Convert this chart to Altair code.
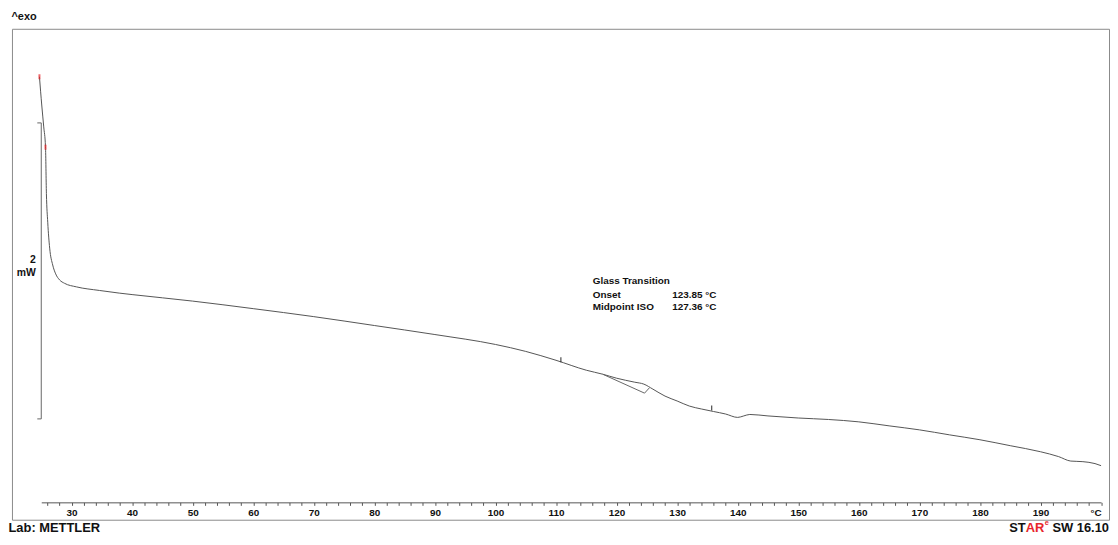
import altair as alt
import pandas as pd

# ---- data (temperature in degC, heat flow in mW, arbitrary offset) ----
temp_c = [24.70, 25.08, 25.41, 25.70, 25.85, 26.07, 26.39, 26.89, 27.38, 28.03,
          28.85, 30.82, 34.59, 37.87, 40, 50, 60, 70, 80, 90,
          100, 105, 110, 115, 117.7, 120, 123, 124.5, 126, 128,
          130, 132, 134, 136, 138, 140, 141, 142, 145, 150,
          155, 160, 165, 170, 175, 180, 185, 190, 193, 195,
          197, 199, 200]
heat_flow_mw = [2.876, 2.685, 2.537, 2.403, 2.087, 1.893, 1.718, 1.604, 1.544, 1.503,
                1.480, 1.456, 1.432, 1.414, 1.404, 1.360, 1.309, 1.255, 1.195, 1.134,
                1.067, 1.020, 0.960, 0.893, 0.866, 0.839, 0.812, 0.799, 0.765, 0.718,
                0.685, 0.651, 0.631, 0.614, 0.597, 0.574, 0.584, 0.594, 0.584, 0.570,
                0.560, 0.544, 0.517, 0.490, 0.456, 0.423, 0.383, 0.342, 0.309, 0.279,
                0.275, 0.262, 0.248]

# evaluation (tangent) line of the glass transition
eval_temp_c = [117.7, 124.62, 125.44]
eval_mw = [0.866, 0.738, 0.775]

# evaluation limits (black) and segment markers (red)
limit_temp_c = [110.8, 135.7]
limit_mw = [0.950, 0.624]
segment_temp_c = [24.70, 25.70]
segment_mw = [2.876, 2.400]

# 2 mW scale bar
bar_temp_c = [25]
bar_low_mw = [0.564]
bar_high_mw = [2.564]

annotation_labels = ["Glass Transition", "Onset", "Midpoint ISO"]
annotation_values = ["", "123.85 °C", "127.36 °C"]

major_ticks = [30, 40, 50, 60, 70, 80, 90, 100, 110, 120, 130, 140, 150, 160, 170, 180, 190, 200]
minor_ticks = list(range(26, 201, 2))

FONT = "Liberation Sans"
W, H = 1067.5, 477

curve_df = pd.DataFrame({"T": temp_c, "mW": heat_flow_mw})
eval_df = pd.DataFrame({"T": eval_temp_c, "mW": eval_mw})
limit_df = pd.DataFrame({"T": limit_temp_c, "mW": limit_mw})
seg_df = pd.DataFrame({"T": segment_temp_c, "mW": segment_mw})
bar_df = pd.DataFrame({"T": bar_temp_c, "mW": bar_low_mw, "mW2": bar_high_mw})
bar_ends_df = pd.DataFrame({"mW": bar_low_mw + bar_high_mw})
one = pd.DataFrame({"a": [0]})

x_axis = alt.Axis(
    values=minor_ticks,
    labelExpr="datum.value == 200 ? '°C' : (datum.value % 10 == 0 ? format(datum.value, 'd') : '')",
    labelFont=FONT, labelFontWeight="bold", labelFontSize=10, labelColor="#111",
    labelFlush=True, labelOverlap=False, labelPadding=2,
    tickSize=3, tickColor="#555", domainColor="#555", tickWidth=1, domainWidth=1,
    grid=False, title=None,
)
x_scale = alt.Scale(domain=[25, 200], nice=False, zero=False)
y_scale = alt.Scale(domain=[0, 3.2], nice=False, zero=False)
X = alt.X("T:Q", scale=x_scale, axis=x_axis)
Y = alt.Y("mW:Q", scale=y_scale, axis=None)

frame = alt.Chart(one).mark_rect(filled=False, stroke="#8a8a8a", strokeWidth=1).encode(
    x=alt.value(-29), x2=alt.value(1076), y=alt.value(0.5), y2=alt.value(495)
)

curve = alt.Chart(curve_df).mark_line(color="#555555", strokeWidth=1, interpolate="monotone").encode(x=X, y=Y)
eval_line = alt.Chart(eval_df).mark_line(color="#666666", strokeWidth=1).encode(x=X, y=Y)

limits = alt.Chart(limit_df).mark_tick(orient="vertical", size=5, thickness=1.3, color="#111", yOffset=-2).encode(x=X, y=Y)
segs = alt.Chart(seg_df).mark_tick(orient="vertical", size=5, thickness=2, color="#e8262b").encode(x=X, y=Y)

bar = alt.Chart(bar_df).mark_rule(color="#666", strokeWidth=1).encode(
    x=X, y=Y, y2=alt.Y2("mW2:Q")
)
bar_ends = alt.Chart(bar_ends_df).mark_rule(color="#666", strokeWidth=1).encode(
    x=alt.value(-4), x2=alt.value(0), y=Y
)

def txt(s, x, y, size=10, align="left", color="#111", weight="bold"):
    return alt.Chart(one).mark_text(
        text=s, font=FONT, fontSize=size, fontWeight=weight, align=align,
        baseline="middle", color=color
    ).encode(x=alt.value(x), y=alt.value(y))

texts = [
    txt("2", -5.5, 232.5, 10.5, "right"),
    txt("mW", -5.5, 246, 10.5, "right"),
    txt(annotation_labels[0], 555.5, 254),
    txt(annotation_labels[1], 555.5, 268),
    txt(annotation_labels[2], 555.5, 280.5),
    txt(annotation_values[1], 635.5, 268),
    txt(annotation_values[2], 635.5, 280.5),
    txt("^exo", -30, -12, 11),
    txt("Lab: METTLER", -33, 503, 13),
    txt("ST", 991.6, 503, 13, "right"),
    txt("AR", 1010.4, 503, 13, "right", "#e8262b"),
    txt("e", 1010.8, 498, 7.5, "left", "#e8262b"),
    txt("SW 16.10", 1075.5, 503, 13, "right"),
]

chart = alt.layer(frame, bar, bar_ends, curve, eval_line, limits, segs, *texts).properties(
    width=W, height=H,
    padding={"left": 33.5, "top": 19, "right": 9, "bottom": 41},
    autosize=alt.AutoSizeParams(type="none"),
    background="white",
).configure_view(stroke=None)

chart.save("out.html", embed_options={"renderer": "svg", "actions": False})
